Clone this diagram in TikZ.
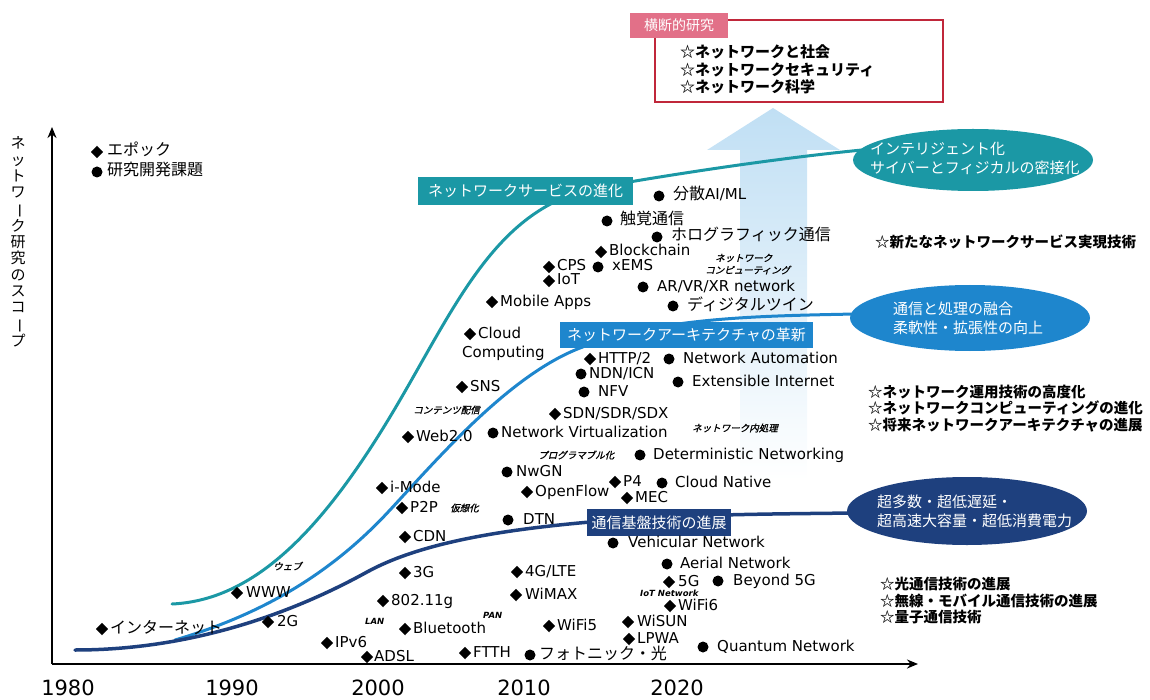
\documentclass[tikz,border=0pt]{standalone}
\usepackage{fontspec}
\setmainfont{DejaVu Sans}
\newfontfamily\jp{Noto Sans CJK JP}
\newfontfamily\jpi{Noto Sans CJK JP}[FakeSlant=0.25,FakeBold=1.2]
\usetikzlibrary{shapes.geometric,arrows.meta}
\definecolor{teal1}{RGB}{27,152,165}
\definecolor{blue1}{RGB}{30,134,205}
\definecolor{navy1}{RGB}{30,64,126}
\definecolor{red1}{RGB}{192,39,58}
\definecolor{pink1}{RGB}{226,112,136}
\definecolor{arrowtop}{RGB}{192,223,244}
\definecolor{arrowmid}{RGB}{208,232,248}
\newcommand\itm[6]{\node[#2] (#1m) at (#3,#4) {}; \node[lbl] (#1) at (#5,#4) {#6};}
\newcommand\J[1]{{\jp\fontsize{16}{16}\selectfont #1}}
\newcommand\sj[4]{\node[smj] (#1) at (#2,#3) {#4};}
\newcommand\slb[4]{\node[sml] (#1) at (#2,#3) {#4};}
\begin{document}
\begin{tikzpicture}[x=1pt,y=-1pt,
  lbl/.style={anchor=west, inner sep=0pt, text height=11pt, text depth=3pt, font=\fontsize{15}{15}\selectfont},
  dmk/.style={diamond, fill=black, inner sep=0pt, outer sep=0pt, minimum width=12pt, minimum height=12.5pt},
  cmk/.style={circle, fill=black, inner sep=0pt, outer sep=0pt, minimum size=11pt},
  smj/.style={anchor=west, inner sep=0pt, font=\jpi\fontsize{9.5}{9.5}\selectfont},
  sml/.style={anchor=west, inner sep=0pt, font=\bfseries\itshape\fontsize{8.5}{8.5}\selectfont},
  curve/.style={line width=3pt, line cap=round},
  tagbox/.style={text=white, inner sep=0pt, font=\jp\fontsize{15}{15}\selectfont},
  ell/.style={ellipse, inner sep=0pt, minimum width=240pt},
  elltxt/.style={anchor=west, align=left, inner sep=0pt, text=white, font=\jp\fontsize{15}{19}\selectfont},
  star/.style={anchor=west, align=left, inner sep=0pt, font=\jp\bfseries\fontsize{14.5}{16.5}\selectfont},
  year/.style={inner sep=0pt, font=\fontsize{21}{21}\selectfont}
]
\useasboundingbox (0,0) rectangle (1150,700);

% big light arrow
\shade[top color=arrowtop, middle color=arrowmid, bottom color=white]
  (707,150) -- (773,108) -- (840,150) -- (807,150) -- (807,480) -- (740,480) -- (740,150) -- cycle;

% top box
\node[draw=red1, line width=2pt, minimum width=288pt, minimum height=82pt, inner sep=0pt] (topbox) at (799,61) {};
\node[fill=pink1, text=white, minimum width=98pt, minimum height=25pt, inner sep=0pt, font=\jp\fontsize{14}{14}\selectfont] (tab) at (679,25.5) {横断的研究};
\node[star, font=\jp\bfseries\fontsize{15}{17.5}\selectfont] (topitems) at (680,69.5) {☆ネットワークと社会\\☆ネットワークセキュリティ\\☆ネットワーク科学};

% curves
\draw[curve, teal1] (172,604) .. controls (260,600) and (330,520) .. (400,400)
  .. controls (460,297) and (500,205) .. (600,187)
  .. controls (680,173) and (780,158) .. (862,150);
\draw[curve, blue1] (175,640) .. controls (260,615) and (330,575) .. (390,510)
  .. controls (440,456) and (510,375) .. (580,348)
  .. controls (660,317) and (760,316) .. (855,314);
\draw[curve, navy1, line width=3.5pt] (75,650) .. controls (180,650) and (280,620) .. (367,572)
  .. controls (420,543) and (500,530) .. (590,522)
  .. controls (680,514) and (780,514) .. (852,513);

% tag boxes
\node[tagbox, fill=teal1, minimum width=215pt, minimum height=28pt] (tagS) at (525.5,191) {ネットワークサービスの進化};
\node[tagbox, fill=blue1, minimum width=253pt, minimum height=26pt] (tagA) at (686.5,335) {ネットワークアーキテクチャの革新};
\node[tagbox, fill=navy1, minimum width=144pt, minimum height=27pt] (tagB) at (659,522.5) {通信基盤技術の進展};

% ellipses
\node[ell, fill=teal1, minimum height=62pt] (eS) at (973,160) {};
\node[elltxt] (eSt) at (870,158) {インテリジェント化\\サイバーとフィジカルの密接化};
\node[ell, fill=blue1, minimum height=66pt] (eA) at (970,318) {};
\node[elltxt] (eAt) at (893,318.5) {通信と処理の融合\\柔軟性・拡張性の向上};
\node[ell, fill=navy1, minimum height=68pt] (eB) at (967,511) {};
\node[elltxt] (eBt) at (877,511) {超多数・超低遅延・\\超高速大容量・超低消費電力};

% right lists
\node[star] (r1) at (875,242) {☆新たなネットワークサービス実現技術};
\node[star] (r2) at (868,408.5) {☆ネットワーク運用技術の高度化\\☆ネットワークコンピューティングの進化\\☆将来ネットワークアーキテクチャの進展};
\node[star] (r3) at (880,601) {☆光通信技術の進展\\☆無線・モバイル通信技術の進展\\☆量子通信技術};

% legend
\itm{lgE}{dmk}{97}{152}{107}{\J{エポック}}
\itm{lgR}{cmk}{97}{172}{107}{\J{研究開発課題}}

% service items
\itm{ai}{cmk}{659}{196}{673}{\J{分散}AI/ML}
\itm{haptic}{cmk}{607}{221}{620}{\J{触覚通信}}
\itm{holo}{cmk}{657}{237}{671}{\J{ホログラフィック通信}}
\itm{bc}{dmk}{601}{252}{609}{Blockchain}
\itm{cps}{dmk}{549}{267}{557}{CPS}
\itm{xems}{cmk}{598}{267}{612}{xEMS}
\itm{iot}{dmk}{549}{281}{557}{IoT}
\itm{arvr}{cmk}{643}{287}{657}{AR/VR/XR network}
\itm{mob}{dmk}{492}{302}{500}{Mobile Apps}
\itm{dt}{cmk}{673}{306}{687}{\J{ディジタルツイン}}
\sj{nc1}{715}{258}{ネットワーク}
\sj{nc2}{705}{270}{コンピューティング}

% architecture items
\itm{cloud}{dmk}{470}{334}{478}{Cloud}
\node[lbl] (comp) at (462,353) {Computing};
\itm{http}{dmk}{590}{359}{598}{HTTP/2}
\itm{na}{cmk}{669}{359}{683}{Network Automation}
\itm{ndn}{cmk}{581}{374}{589}{NDN/ICN}
\itm{ei}{cmk}{678}{382}{692}{Extensible Internet}
\itm{nfv}{cmk}{584}{392}{598}{NFV}
\itm{sns}{dmk}{462}{387}{470}{SNS}
\sj{cont}{413}{410}{コンテンツ配信}
\itm{sdn}{dmk}{555}{414}{563}{SDN/SDR/SDX}
\itm{web}{dmk}{408}{437}{416}{Web2.0}
\itm{nv}{cmk}{493}{433}{501}{Network Virtualization}
\sj{innet}{692}{428}{ネットワーク内処理}
\sj{prog}{538}{455}{プログラマブル化}
\itm{det}{cmk}{640}{455}{653}{Deterministic Networking}
\itm{nwgn}{cmk}{507}{472}{516}{NwGN}
\itm{imode}{dmk}{382}{488}{390}{i-Mode}
\itm{of}{dmk}{527}{492}{535}{OpenFlow}
\itm{p4}{dmk}{615}{482}{623}{P4}
\itm{cn}{cmk}{662}{483}{675}{Cloud Native}
\itm{mec}{dmk}{627}{498}{635}{MEC}
\itm{p2p}{dmk}{402}{508}{410}{P2P}
\sj{virt}{450}{508}{仮想化}
\itm{dtn}{cmk}{508}{520}{523}{DTN}

% infrastructure items
\itm{cdn}{dmk}{405}{537}{413}{CDN}
\itm{veh}{cmk}{613}{543}{628}{Vehicular Network}
\sj{webj}{273}{566}{ウェブ}
\itm{aer}{cmk}{667}{564}{680}{Aerial Network}
\itm{g3}{dmk}{405}{573}{413}{3G}
\itm{lte}{dmk}{517}{572}{525}{4G/LTE}
\itm{g5}{dmk}{669}{582}{678}{5G}
\itm{b5g}{cmk}{718}{581}{733}{Beyond 5G}
\itm{www}{dmk}{237}{593}{246}{WWW}
\itm{wimax}{dmk}{516}{595}{525}{WiMAX}
\slb{iotn}{640}{593}{IoT Network}
\itm{wg}{dmk}{383}{601}{391}{802.11g}
\itm{wifi6}{dmk}{670}{606}{678}{WiFi6}
\slb{pan}{483}{615}{PAN}
\slb{lan}{365}{621}{LAN}
\itm{g2}{dmk}{268}{622}{277}{2G}
\itm{inet}{dmk}{102}{629}{110}{\J{インターネット}}
\itm{bt}{dmk}{405}{629}{413}{Bluetooth}
\itm{wifi5}{dmk}{549}{626}{557}{WiFi5}
\itm{wisun}{dmk}{628}{622}{637}{WiSUN}
\itm{ipv6}{dmk}{327}{643}{335}{IPv6}
\itm{lpwa}{dmk}{629}{639}{637}{LPWA}
\itm{qn}{cmk}{703}{647}{717}{Quantum Network}
\itm{adsl}{dmk}{367}{657}{374}{ADSL}
\itm{ftth}{dmk}{465}{653}{473}{FTTH}
\itm{photo}{cmk}{530}{655}{539}{\J{フォトニック・光}}

% axes
\coordinate (O) at (52,664);
\coordinate (ytop) at (52,127);
\coordinate (xend) at (918,664);
\draw[line width=2.5pt, -{Stealth[length=11pt,width=9pt]}] (O) -- (ytop);
\draw[line width=2.5pt, -{Stealth[length=11pt,width=9pt]}] (O) -- (xend);
\node[font=\jp\fontsize{15}{16.3}\selectfont, align=center, inner sep=0pt] (ylab) at (18,242)
  {ネ\\ッ\\ト\\ワ\\\rotatebox[origin=c]{-90}{ー}\\ク\\研\\究\\の\\ス\\コ\\\rotatebox[origin=c]{-90}{ー}\\プ};

% years
\node[year] (y1980) at (68,688) {1980};
\node[year] (y1990) at (232,688) {1990};
\node[year] (y2000) at (378,688) {2000};
\node[year] (y2010) at (524,688) {2010};
\node[year] (y2020) at (677,688) {2020};
\end{tikzpicture}
\end{document}
